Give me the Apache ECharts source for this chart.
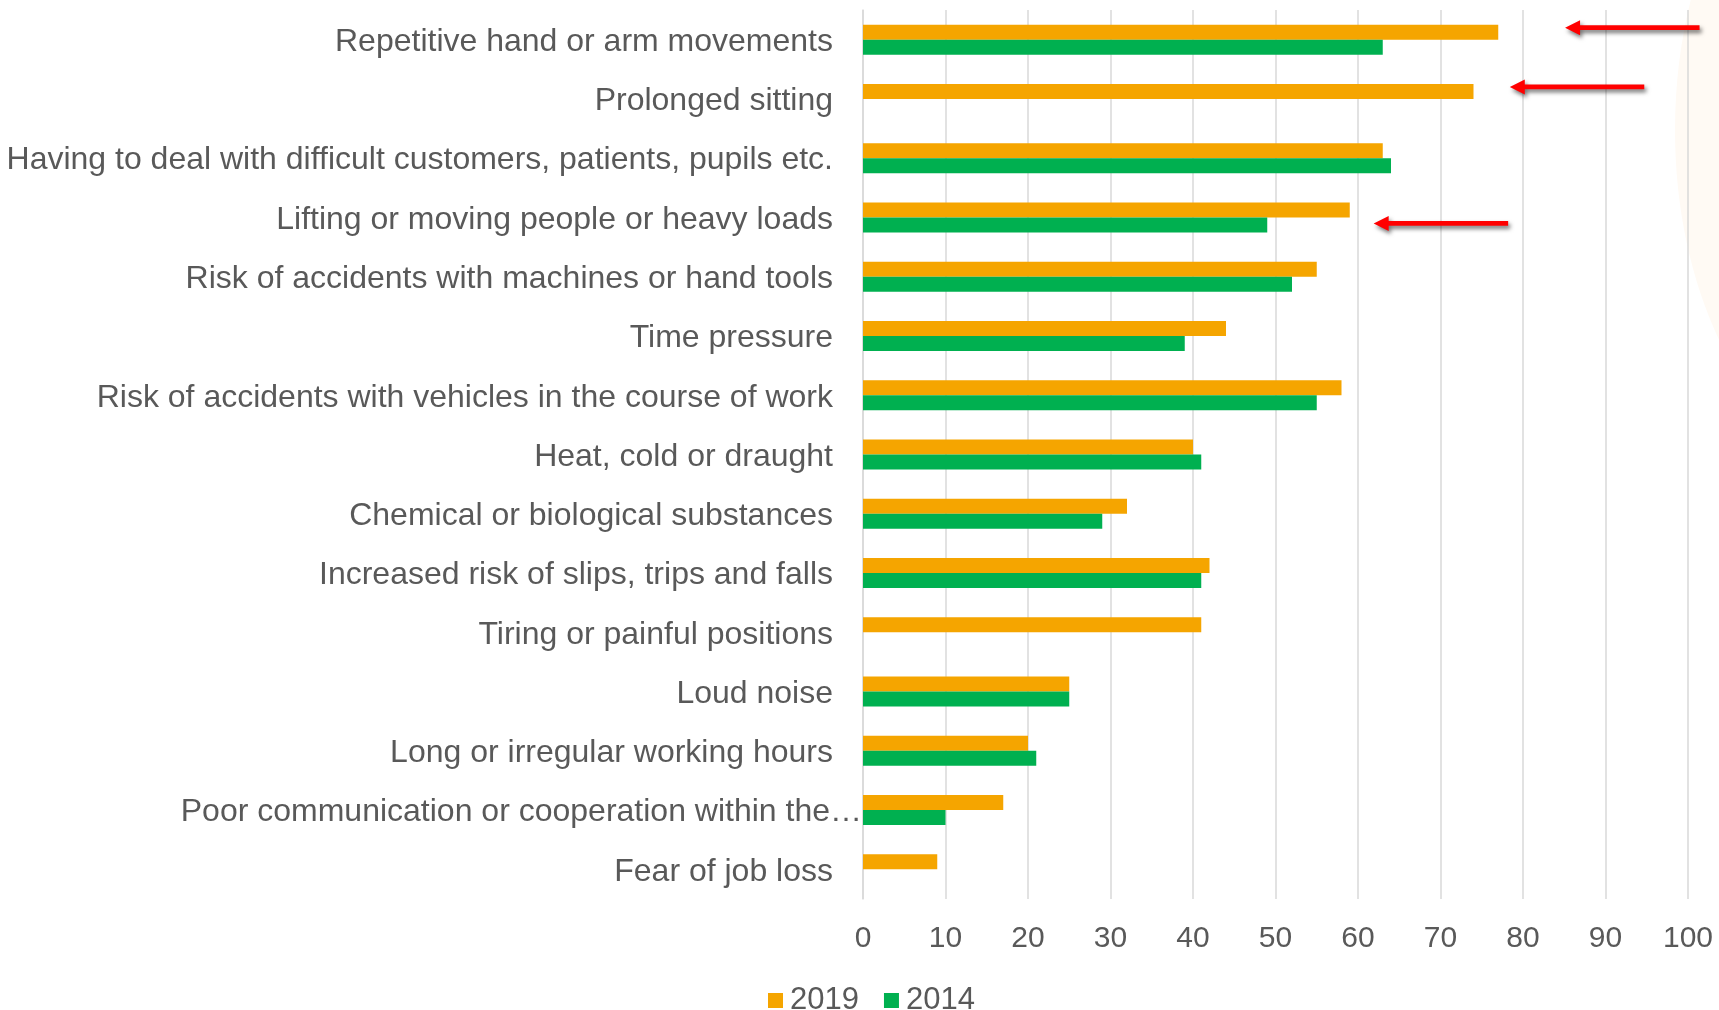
<!DOCTYPE html>
<html>
<head>
<meta charset="utf-8">
<script src="https://cdn.jsdelivr.net/npm/echarts@6/dist/echarts.min.js"></script>
<style>
html,body{margin:0;padding:0;background:#fff;}
#chart{width:1719px;height:1010px;}
</style>
</head>
<body>
<div id="chart"></div>
<script>
const categories = [
  "Repetitive hand or arm movements",
  "Prolonged sitting",
  "Having to deal with difficult customers, patients, pupils etc.",
  "Lifting or moving people or heavy loads",
  "Risk of accidents with machines or hand tools",
  "Time pressure",
  "Risk of accidents with vehicles in the course of work",
  "Heat, cold or draught",
  "Chemical or biological substances",
  "Increased risk of slips, trips and falls",
  "Tiring or painful positions",
  "Loud noise",
  "Long or irregular working hours",
  "Poor communication or cooperation within the\u2026",
  "Fear of job loss"
];
const values2019 = [77, 74, 63, 59, 55, 44, 58, 40, 32, 42, 41, 25, 20, 17, 9];
const values2014 = [63, null, 64, 49, 52, 39, 55, 41, 29, 41, null, 25, 21, 10, null];
const xTicks = {min: 0, max: 100, interval: 10};
// annotation arrows: [tail value, tip value, category index]
const arrows = [
  [101.4, 85.1, 0],
  [94.7, 78.4, 1],
  [78.2, 61.9, 3]
];

const chart = echarts.init(document.getElementById('chart'));
const FONT = '"Liberation Sans", Arial, sans-serif';
const TXT = '#595959';

chart.setOption({
  animation: false,
  backgroundColor: '#ffffff',
  grid: {left: 863, right: 31, top: 10, bottom: 111, containLabel: false},
  legend: {
    data: ['2019', '2014'],
    left: 763, top: 980,
    icon: 'rect', itemWidth: 15, itemHeight: 15, itemGap: 25,
    textStyle: {fontFamily: FONT, fontSize: 31, color: TXT, padding: [0,0,0,2]}
  },
  xAxis: {
    type: 'value', min: xTicks.min, max: xTicks.max, interval: xTicks.interval,
    axisLine: {show: false}, axisTick: {show: false},
    splitLine: {show: true, lineStyle: {color: '#D9D9D9', width: 1.5}},
    axisLabel: {fontFamily: FONT, fontSize: 30, color: TXT, margin: 25}
  },
  yAxis: {
    type: 'category', data: categories, inverse: true,
    axisLine: {show: true, lineStyle: {color: '#D9D9D9', width: 1.5}},
    axisTick: {show: false},
    axisLabel: {
      fontFamily: FONT, fontSize: 32, color: TXT, margin: 1,
      formatter: function (v) {
        return v.indexOf('\u2026') >= 0 ? '{t|' + v + '}' : '{n|' + v + '}';
      },
      rich: {
        n: {fontFamily: FONT, fontSize: 32, color: TXT, padding: [5, 29, 0, 0]},
        t: {fontFamily: FONT, fontSize: 32, color: TXT, padding: [5, 0, 0, 0]}
      }
    }
  },
  series: [
    {name: '2019', type: 'bar', data: values2019, barWidth: 15, barGap: '0%',
     itemStyle: {color: '#F5A500'}},
    {name: '2014', type: 'bar', data: values2014, barWidth: 15, barGap: '0%',
     itemStyle: {color: '#00B050'}}
  ]
});

// background ellipse and arrows, positioned through the chart's own scales
const graphics = [{
  type: 'ellipse', z: -10, silent: true,
  shape: {cx: 1900, cy: 130, rx: 225, ry: 353},
  style: {fill: '#FFFAF4'}
}];
arrows.forEach(function (a) {
  const tail = chart.convertToPixel({gridIndex: 0}, [a[0], a[2]]);
  const tip = chart.convertToPixel({gridIndex: 0}, [a[1], a[2]]);
  const y = tip[1] - 12 + (a[2] === 3 ? 18 : 0);
  const xt = tip[0], xe = tail[0];
  const hl = 15, hh = 7.5, sh = 2.4;
  graphics.push({
    type: 'polygon', z: 100, silent: true,
    shape: {points: [[xt, y], [xt + hl, y - hh], [xt + hl, y - sh], [xe, y - sh], [xe, y + sh], [xt + hl, y + sh], [xt + hl, y + hh]]},
    style: {fill: '#FF0000', shadowColor: 'rgba(0,0,0,0.55)', shadowBlur: 4, shadowOffsetX: 2, shadowOffsetY: 3}
  });
});
chart.setOption({graphic: graphics});
</script>
</body>
</html>
